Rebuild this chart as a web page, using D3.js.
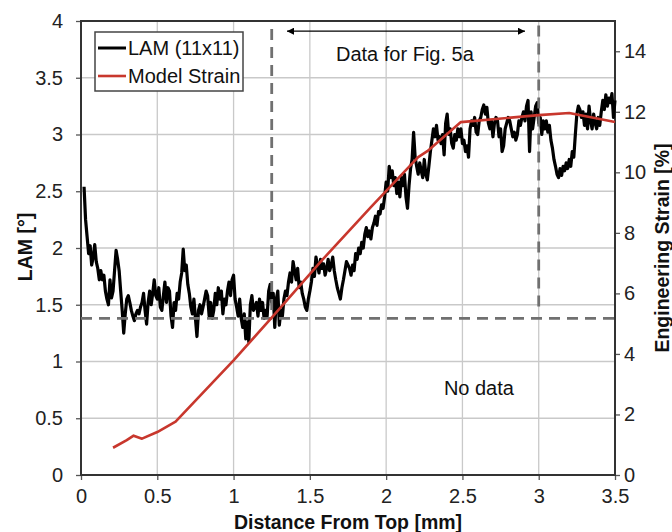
<!DOCTYPE html>
<html>
<head>
<meta charset="utf-8">
<script src="https://cdn.jsdelivr.net/npm/d3@7"></script>
<style>
  html, body { margin: 0; padding: 0; background: #fff; }
  svg { display: block; font-family: "Liberation Sans", Arial, sans-serif; }
</style>
</head>
<body>
<svg id="chart" width="672" height="532"></svg>
<script>
// ---------------- data ----------------
const xTicks = [0, 0.5, 1, 1.5, 2, 2.5, 3, 3.5];
const leftTicks = [0, 0.5, 1, 1.5, 2, 2.5, 3, 3.5, 4];
const rightTicks = [0, 2, 4, 6, 8, 10, 12, 14];

// LAM (11x11) sampled every 0.01 mm starting at 0.02 mm
const lamStart = 0.02;
const lamStep = 0.01;
const lamValues = [
  2.54, 2.25, 2.10, 1.95, 2.02, 1.85, 1.92, 2.03, 1.88, 1.82,
  1.72, 1.80, 1.72, 1.76, 1.62, 1.55, 1.50, 1.72, 1.56, 1.62,
  1.80, 1.98, 1.90, 1.80, 1.62, 1.45, 1.25, 1.42, 1.55, 1.58,
  1.52, 1.45, 1.40, 1.36, 1.42, 1.45, 1.42, 1.48, 1.52, 1.60,
  1.45, 1.33, 1.52, 1.62, 1.50, 1.60, 1.72, 1.58, 1.55, 1.65,
  1.48, 1.45, 1.58, 1.70, 1.52, 1.65,
  // 0.58 - 1.15
  1.62, 1.40, 1.30, 1.52, 1.45, 1.60, 1.55, 1.70, 1.78, 1.99,
  1.80, 1.85, 1.68, 1.60, 1.48, 1.42, 1.55, 1.38, 1.22, 1.45,
  1.50, 1.42, 1.48, 1.55, 1.62, 1.58, 1.40, 1.52, 1.38, 1.45,
  1.60, 1.50, 1.65, 1.55, 1.62, 1.42, 1.55, 1.50, 1.62, 1.70,
  1.58, 1.72, 1.76, 1.55, 1.48, 1.40, 1.55, 1.38, 1.30, 1.42,
  1.20, 1.35, 1.17, 1.50, 1.58, 1.45, 1.48, 1.52,
  // 1.16 - 1.75
  1.40, 1.55, 1.45, 1.52, 1.38, 1.45, 1.40, 1.62, 1.68, 1.52,
  1.60, 1.30, 1.55, 1.62, 1.32, 1.45, 1.40, 1.55, 1.62, 1.58,
  1.70, 1.78, 1.70, 1.88, 1.80, 1.72, 1.82, 1.65, 1.70, 1.60,
  1.55, 1.48, 1.45, 1.55, 1.62, 1.70, 1.82, 1.75, 1.92, 1.85,
  1.78, 1.90, 1.82, 1.86, 1.76, 1.82, 1.90, 1.80, 1.85, 1.92,
  1.80, 1.72, 1.65, 1.60, 1.55, 1.65, 1.72, 1.80, 1.88, 1.85,
  // 1.76 - 2.34
  1.82, 1.76, 1.85, 1.80, 1.95, 1.90, 2.00, 1.95, 2.05, 2.00,
  2.12, 2.18, 2.10, 2.15, 2.08, 2.18, 2.22, 2.28, 2.20, 2.32,
  2.30, 2.38, 2.35, 2.45, 2.58, 2.50, 2.72, 2.62, 2.68, 2.55,
  2.62, 2.48, 2.58, 2.45, 2.62, 2.55, 2.65, 2.45, 2.35, 2.55,
  2.70, 2.78, 3.02, 2.80, 2.72, 2.65, 2.75, 2.68, 2.62, 2.78,
  2.65, 2.60, 2.72, 2.85, 2.95, 3.05, 2.98, 3.08, 2.95,
  // 2.35 - 2.95
  2.98, 2.92, 3.00, 2.82, 3.10, 3.18, 3.00, 3.05, 2.92, 2.88,
  3.00, 2.95, 3.05, 2.98, 3.05, 2.92, 2.95, 2.85, 2.90, 2.80,
  3.05, 3.12, 3.08, 3.15, 3.02, 3.00, 3.12, 3.15, 3.22, 3.26,
  3.18, 3.24, 3.10, 3.05, 3.12, 2.98, 3.10, 3.15, 3.12, 2.98,
  3.05, 2.85, 2.90, 3.05, 3.10, 3.15, 3.12, 3.05, 2.98, 3.02,
  2.95, 3.00, 3.12, 3.08, 3.15, 3.20, 3.12, 3.25, 3.30, 2.85,
  3.20,
  // 2.96 - 3.50
  3.05, 3.15, 3.25, 3.28, 3.10, 3.15, 3.00, 3.12, 3.05, 3.12,
  3.02, 3.08, 2.95, 2.88, 2.78, 2.72, 2.65, 2.62, 2.70, 2.64,
  2.72, 2.68, 2.75, 2.70, 2.78, 2.72, 2.85, 2.80, 3.00, 3.18,
  3.25, 3.22, 3.15, 3.20, 3.08, 3.18, 3.05, 3.25, 3.12, 3.05,
  3.18, 3.10, 3.05, 3.15, 3.08, 3.20, 3.30, 3.22, 3.35, 3.25,
  3.32, 3.28, 3.36, 3.15, 3.30
];

// Model strain (%)
const strainDistance = [0.21, 0.30, 0.345, 0.40, 0.50, 0.62, 1.00, 1.25, 1.58, 1.90, 2.21, 2.27, 2.49, 3.00, 3.20, 3.50];
const strainValues   = [0.90, 1.15, 1.30, 1.20, 1.42, 1.76, 3.79, 5.20, 7.10, 8.85, 10.50, 10.70, 11.66, 11.89, 11.96, 11.66];

// annotations
const thresholdLAM = 1.38;
const fig5aStart = 1.25, fig5aEnd = 3.0;
const arrowFrom = 1.35, arrowTo = 2.91, arrowLevel = 3.91;

// ---------------- layout ----------------
const svg = d3.select("#chart");
const L = 81, R = 615, T = 21, B = 475;
const x = d3.scaleLinear().domain([0, 3.5]).range([L, R]);
const yL = d3.scaleLinear().domain([0, 4]).range([B, T]);
const yR = d3.scaleLinear().domain([0, 15]).range([B, T]);

// gridlines
const grid = svg.append("g").attr("stroke", "#c9c9c9").attr("stroke-width", 1.3);
xTicks.slice(1, -1).forEach(t => grid.append("line")
  .attr("x1", x(t)).attr("x2", x(t)).attr("y1", T).attr("y2", B));
leftTicks.slice(1, -1).forEach(t => grid.append("line")
  .attr("x1", L).attr("x2", R).attr("y1", yL(t)).attr("y2", yL(t)));

// axes
const fontSize = 20;
const ax = svg.append("g").attr("transform", `translate(0,${B})`)
  .call(d3.axisBottom(x).tickValues(xTicks).tickFormat(d3.format("~g")).tickSize(5).tickPadding(9));
const ay = svg.append("g").attr("transform", `translate(${L},0)`)
  .call(d3.axisLeft(yL).tickValues(leftTicks).tickFormat(d3.format("~g")).tickSize(5).tickPadding(13));
const ar = svg.append("g").attr("transform", `translate(${R},0)`)
  .call(d3.axisRight(yR).tickValues(rightTicks).tickFormat(d3.format("~g")).tickSize(5).tickPadding(4));
[ax, ay, ar].forEach(g => {
  g.selectAll("text").attr("font-size", fontSize).attr("fill", "#222")
    .attr("font-family", "'Liberation Sans', Arial, sans-serif");
  g.selectAll("line").attr("stroke", "#555").attr("stroke-width", 1.3);
  g.select(".domain").remove();
});
// frame
svg.append("rect").attr("x", L).attr("y", T).attr("width", R - L).attr("height", B - T)
  .attr("fill", "none").attr("stroke", "#333").attr("stroke-width", 2);

// axis titles
const titleSize = 19.5;
svg.append("text").attr("x", 348).attr("y", 529).attr("text-anchor", "middle")
  .attr("font-size", titleSize).attr("font-weight", "bold").attr("fill", "#111")
  .text("Distance From Top [mm]");
svg.append("text").attr("transform", `translate(32,247) rotate(-90)`)
  .attr("text-anchor", "middle").attr("font-size", titleSize).attr("font-weight", "bold").attr("fill", "#111")
  .text("LAM [°]");
svg.append("text").attr("transform", `translate(669,248) rotate(-90)`)
  .attr("text-anchor", "middle").attr("font-size", titleSize).attr("font-weight", "bold").attr("fill", "#111")
  .text("Engineering Strain [%]");

// LAM line
const lamData = lamValues.map((v, i) => [lamStart + i * lamStep, v]);
svg.append("path").datum(lamData)
  .attr("fill", "none").attr("stroke", "#000").attr("stroke-width", 3.2).attr("stroke-linejoin", "round")
  .attr("d", d3.line().x(d => x(d[0])).y(d => yL(d[1])));

// dashed annotation lines
const dash = svg.append("g").attr("stroke", "#707070").attr("stroke-width", 2.8).attr("stroke-dasharray", "11,7").attr("fill", "none");
dash.append("line").attr("x1", L).attr("x2", R).attr("y1", yL(thresholdLAM)).attr("y2", yL(thresholdLAM));
dash.append("line").attr("x1", x(fig5aStart)).attr("x2", x(fig5aStart)).attr("y1", yL(3.93)).attr("y2", yL(thresholdLAM));
dash.append("line").attr("x1", x(fig5aEnd)).attr("x2", x(fig5aEnd)).attr("y1", yL(3.96)).attr("y2", yL(1.44));

// model strain line
svg.append("path").datum(strainDistance.map((d, i) => [d, strainValues[i]]))
  .attr("fill", "none").attr("stroke", "#c8372d").attr("stroke-width", 2.6).attr("stroke-linejoin", "round")
  .attr("d", d3.line().x(d => x(d[0])).y(d => yR(d[1])));

// double arrow
const defs = svg.append("defs");
defs.append("marker").attr("id", "ah").attr("viewBox", "0 0 10 10").attr("refX", 10).attr("refY", 5)
  .attr("markerWidth", 12).attr("markerHeight", 7).attr("markerUnits", "userSpaceOnUse").attr("orient", "auto-start-reverse")
  .append("path").attr("d", "M0,0 L10,5 L0,10 z").attr("fill", "#000");
svg.append("line").attr("x1", x(arrowFrom)).attr("x2", x(arrowTo))
  .attr("y1", yL(arrowLevel)).attr("y2", yL(arrowLevel))
  .attr("stroke", "#000").attr("stroke-width", 1.2)
  .attr("marker-start", "url(#ah)").attr("marker-end", "url(#ah)");

// annotation texts
svg.append("text").attr("x", x(2.123)).attr("y", 61).attr("text-anchor", "middle")
  .attr("font-size", 20).attr("fill", "#111").text("Data for Fig. 5a");
svg.append("text").attr("x", x(2.608)).attr("y", yL(0.705)).attr("text-anchor", "middle")
  .attr("font-size", 20).attr("fill", "#111").text("No data");

// legend
const lg = svg.append("g");
lg.append("rect").attr("x", 95).attr("y", 32).attr("width", 148).attr("height", 59)
  .attr("fill", "#fff").attr("stroke", "#444").attr("stroke-width", 1.5);
const legendItems = [
  { label: "LAM (11x11)", color: "#000", w: 3 },
  { label: "Model Strain", color: "#c8372d", w: 2.6 }
];
legendItems.forEach((it, i) => {
  const cy = 48 + i * 28;
  lg.append("line").attr("x1", 98).attr("x2", 126).attr("y1", cy).attr("y2", cy)
    .attr("stroke", it.color).attr("stroke-width", it.w);
  lg.append("text").attr("x", 128).attr("y", cy + 7).attr("font-size", 20).attr("fill", "#111").text(it.label);
});
</script>
</body>
</html>
